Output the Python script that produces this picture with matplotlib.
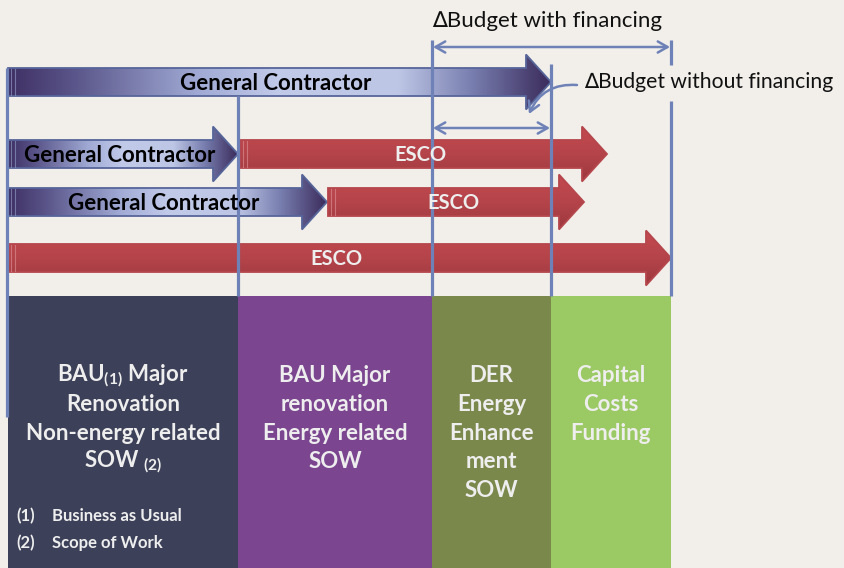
import numpy as np
import matplotlib
matplotlib.use("Agg")
import matplotlib.pyplot as plt
from matplotlib.patches import Polygon, Rectangle, FancyArrowPatch
from matplotlib.colors import LinearSegmentedColormap

plt.rcParams['font.family'] = ['Lato', 'DejaVu Sans']
plt.rcParams['mathtext.fontset'] = 'custom'
plt.rcParams['mathtext.rm'] = 'Lato:bold'
plt.rcParams['mathtext.it'] = 'Lato:bold'
plt.rcParams['mathtext.bf'] = 'Lato:bold'
plt.rcParams['mathtext.default'] = 'rm'

# ---------------- data ----------------
phase_labels = [
    ["BAU$_{(1)}$ Major", "Renovation", "Non-energy related", "SOW $_{(2)}$"],
    ["BAU Major", "renovation", "Energy related", "SOW"],
    ["DER", "Energy", "Enhance", "ment", "SOW"],
    ["Capital", "Costs", "Funding"],
]
phase_edges = [8, 238, 432, 551, 671]          # cumulative budget scale
gc_spans = [(8, 551), (8, 238), (8, 327), None]            # General Contractor
esco_spans = [None, (240, 607), (328, 584), (8, 671)]      # ESCO
footnotes = [("(1)", "Business as Usual"), ("(2)", "Scope of Work")]
budget_with = (432, 671)
budget_without = (432, 551)

# ---------------- style ----------------
BG = "#F2EFEA"
LINE = "#6F82B8"
col_colors = ["#3C4058", "#7B4590", "#7B884B", "#9BC963"]
TXT = "#EEEEEE"
row_y = [82, 154, 202, 258]

fig = plt.figure(figsize=(8.45, 5.68), dpi=100, facecolor=BG)
ax = fig.add_axes([0, 0, 1, 1])
ax.set_facecolor(BG)
ax.set_xlim(0, 845)
ax.set_ylim(568, 0)
ax.axis('off')

# columns
col_top = 296
for i, c in enumerate(col_colors):
    ax.add_patch(Rectangle((phase_edges[i], col_top), phase_edges[i + 1] - phase_edges[i],
                           568 - col_top, facecolor=c, edgecolor='none', zorder=1))
    cx = (phase_edges[i] + phase_edges[i + 1]) / 2
    for j, line in enumerate(phase_labels[i]):
        ax.text(cx, 376 + j * 28.6, line, ha='center', va='center', color=TXT,
                fontsize=16, fontweight='bold', zorder=5)

for k, (num, txt) in enumerate(footnotes):
    yy = 516 + k * 27
    ax.text(16, yy, num, ha='left', va='center', color=TXT, fontsize=12, fontweight='bold', zorder=5)
    ax.text(52, yy, txt, ha='left', va='center', color=TXT, fontsize=12, fontweight='bold', zorder=5)

gc_cmap = LinearSegmentedColormap.from_list("gc", [
    (0.0, "#3F3063"), (0.12, "#5A558A"), (0.35, "#A0AAD4"), (0.5, "#C2CAEA"),
    (0.72, "#BEC6E6"), (0.86, "#767CAD"), (1.0, "#3B2C5C")])
esco_cmap = LinearSegmentedColormap.from_list("esco", ["#C44A50", "#B4444A", "#9C383E"])


def arrow_pts(x0, x1, yc, bh=14, hh=27.5, hl=25):
    return [(x0, yc - bh), (x1 - hl, yc - bh), (x1 - hl, yc - hh), (x1, yc),
            (x1 - hl, yc + hh), (x1 - hl, yc + bh), (x0, yc + bh)]


def draw_arrow(span, yc, kind, z):
    x0, x1 = span
    pts = arrow_pts(x0, x1, yc)
    if kind == 'gc':
        edge = "#56659A"
        grad = np.linspace(0, 1, 256)[None, :]
        cmap = gc_cmap
        strip = "#8C94BE"
    else:
        edge = "#B5464C"
        grad = np.linspace(0, 1, 64)[:, None]
        cmap = esco_cmap
        strip = "#D98A8E"
    poly = Polygon(pts, closed=True, facecolor='none', edgecolor='none', zorder=z)
    ax.add_patch(poly)
    im = ax.imshow(grad, cmap=cmap, extent=(x0, x1, yc + 28, yc - 28), aspect='auto',
                   origin='upper', zorder=z, interpolation='bilinear')
    im.set_clip_path(poly)
    ax.add_patch(Polygon(pts, closed=True, facecolor='none', edgecolor=edge, lw=1.3, zorder=z + 0.1))
    for dx in (3, 7):
        ax.plot([x0 + dx, x0 + dx], [yc - 13, yc + 13], color=strip, lw=0.8, alpha=0.7, zorder=z + 0.2)


for r, yc in enumerate(row_y):
    if gc_spans[r] is not None:
        draw_arrow(gc_spans[r], yc, 'gc', 3)
    if esco_spans[r] is not None:
        draw_arrow(esco_spans[r], yc, 'esco', 3.5)

ax.set_xlim(0, 845)
ax.set_ylim(568, 0)

# labels on arrows
gc_kw = dict(ha='center', va='center', fontsize=16, fontweight='bold', zorder=6, color='black')
es_kw = dict(ha='center', va='center', fontsize=14.5, fontweight='bold', zorder=6, color=TXT)
ax.text(276, row_y[0] + 1, "General Contractor", **gc_kw)
ax.text(120, row_y[1] + 1, "General Contractor", **gc_kw)
ax.text(164, row_y[2] + 1, "General Contractor", **gc_kw)
ax.text(420, row_y[1] + 1, "ESCO", **es_kw)
ax.text(453, row_y[2] + 1, "ESCO", **es_kw)
ax.text(336, row_y[3] + 1, "ESCO", **es_kw)

# vertical guide lines
lw = 2.3
ax.plot([7, 7], [68, 417], color=LINE, lw=lw, zorder=4, solid_capstyle='butt')
ax.plot([phase_edges[1]] * 2, [96, col_top], color=LINE, lw=lw, zorder=4, solid_capstyle='butt')
ax.plot([phase_edges[2]] * 2, [40, col_top], color=LINE, lw=lw, zorder=4, solid_capstyle='butt')
ax.plot([phase_edges[3]] * 2, [64, col_top], color=LINE, lw=lw, zorder=4, solid_capstyle='butt')
ax.plot([phase_edges[4]] * 2, [40, 65], color=LINE, lw=lw, zorder=4, solid_capstyle='butt')
ax.plot([phase_edges[4]] * 2, [101, col_top], color=LINE, lw=lw, zorder=4, solid_capstyle='butt')

# dimension arrows
for (a, b), yy in ((budget_with, 47), (budget_without, 128)):
    ax.add_patch(FancyArrowPatch((a + 1, yy), (b - 1, yy), arrowstyle='<->,head_length=7,head_width=4',
                                 color=LINE, lw=1.8, shrinkA=0, shrinkB=0, zorder=4))

ax.text(432, 21, "\u2206Budget with financing", ha='left', va='center', fontsize=16,
        color='#111111', zorder=6)
ax.text(584, 82, "\u2206Budget without financing", ha='left', va='center', fontsize=15.2,
        color='#111111', zorder=6)
ax.add_patch(FancyArrowPatch((577, 85), (529, 114), connectionstyle='arc3,rad=0.35',
                             arrowstyle='->,head_length=7,head_width=4', color=LINE, lw=1.8,
                             shrinkA=0, shrinkB=0, zorder=4))

fig.savefig("out.png", dpi=100, facecolor=BG)
